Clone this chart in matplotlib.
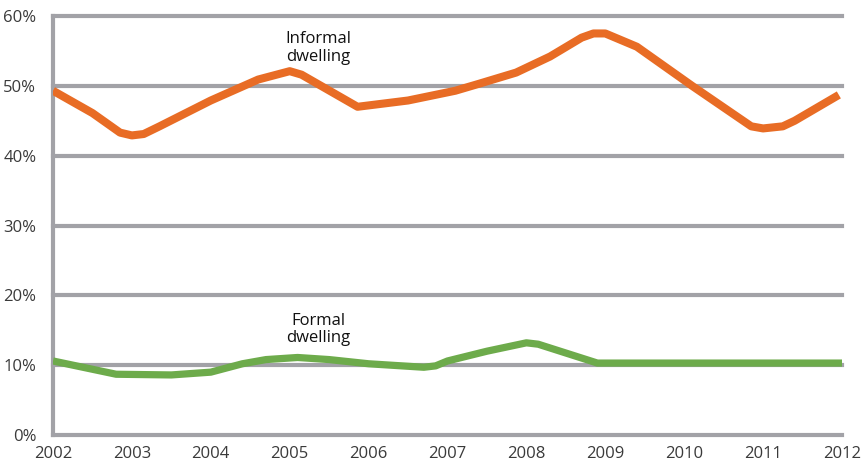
import matplotlib
matplotlib.use("Agg")
import matplotlib.pyplot as plt

# Data (year, percent)
informal_years = [2002.0, 2002.5, 2002.85, 2003.0, 2003.15, 2003.35, 2004.0, 2004.3, 2004.6,
                  2005.0, 2005.15, 2005.86, 2006.5, 2007.1, 2007.4, 2007.87, 2008.3,
                  2008.7, 2008.85, 2009.0, 2009.4, 2010.1, 2010.85, 2011.0, 2011.25,
                  2011.4, 2011.96]
informal_vals = [49.3, 46.1, 43.3, 42.9, 43.1, 44.2, 47.9, 49.4, 50.9,
                 52.1, 51.6, 47.0, 47.9, 49.3, 50.3, 51.9, 54.2,
                 56.9, 57.5, 57.5, 55.6, 50.0, 44.2, 43.9, 44.2,
                 45.0, 48.7]

formal_years = [2002.0, 2002.8, 2003.5, 2004.0, 2004.4, 2004.7, 2005.1, 2005.5, 2006.0,
                2006.7, 2006.85, 2007.0, 2007.5, 2008.0, 2008.15, 2008.9, 2012.0]
formal_vals = [10.6, 8.7, 8.6, 9.0, 10.2, 10.8, 11.1, 10.8, 10.2,
               9.7, 9.9, 10.6, 12.0, 13.2, 13.0, 10.3, 10.3]

x_ticks = list(range(2002, 2013))
y_ticks = [0, 10, 20, 30, 40, 50, 60]
y_labels = [f"{v}%" for v in y_ticks]

grid_col = "#A2A2A7"
orange = "#E86C25"
green = "#6DAB4B"
text_col = "#3A3A3A"
font = ["Open Sans", "DejaVu Sans"]

fig = plt.figure(figsize=(8.64, 4.63), dpi=100)
ax = fig.add_axes([53/864, 1-435/463, (842-53)/864, (435-16)/463])
ax.set_xlim(2002, 2012)
ax.set_ylim(0, 60)

for v in y_ticks:
    ax.axhline(v, color=grid_col, lw=3.0, clip_on=False, zorder=1)
ax.axvline(2002, color=grid_col, lw=3.0, clip_on=False, zorder=1)

ax.plot(informal_years, informal_vals, color=orange, lw=5.8,
        solid_joinstyle="round", solid_capstyle="butt", zorder=3)
ax.plot(formal_years, formal_vals, color=green, lw=5.2,
        solid_joinstyle="round", solid_capstyle="butt", zorder=3)

for s in ax.spines.values():
    s.set_visible(False)
ax.set_xticks(x_ticks)
ax.set_xticklabels([str(x) for x in x_ticks])
ax.set_yticks(y_ticks)
ax.set_yticklabels(y_labels)
ax.tick_params(length=0, labelsize=12, labelcolor=text_col)
ax.tick_params(axis="y", pad=12)
ax.tick_params(axis="x", pad=8)
for lab in ax.get_xticklabels() + ax.get_yticklabels():
    lab.set_family(font)

ax.text(2005.36, 55.4, "Informal\ndwelling", ha="center", va="center",
        fontsize=12, color="#111111", family=font, linespacing=1.15)
ax.text(2005.36, 15.1, "Formal\ndwelling", ha="center", va="center",
        fontsize=12, color="#111111", family=font, linespacing=1.15)

fig.savefig("out.png", dpi=100)
